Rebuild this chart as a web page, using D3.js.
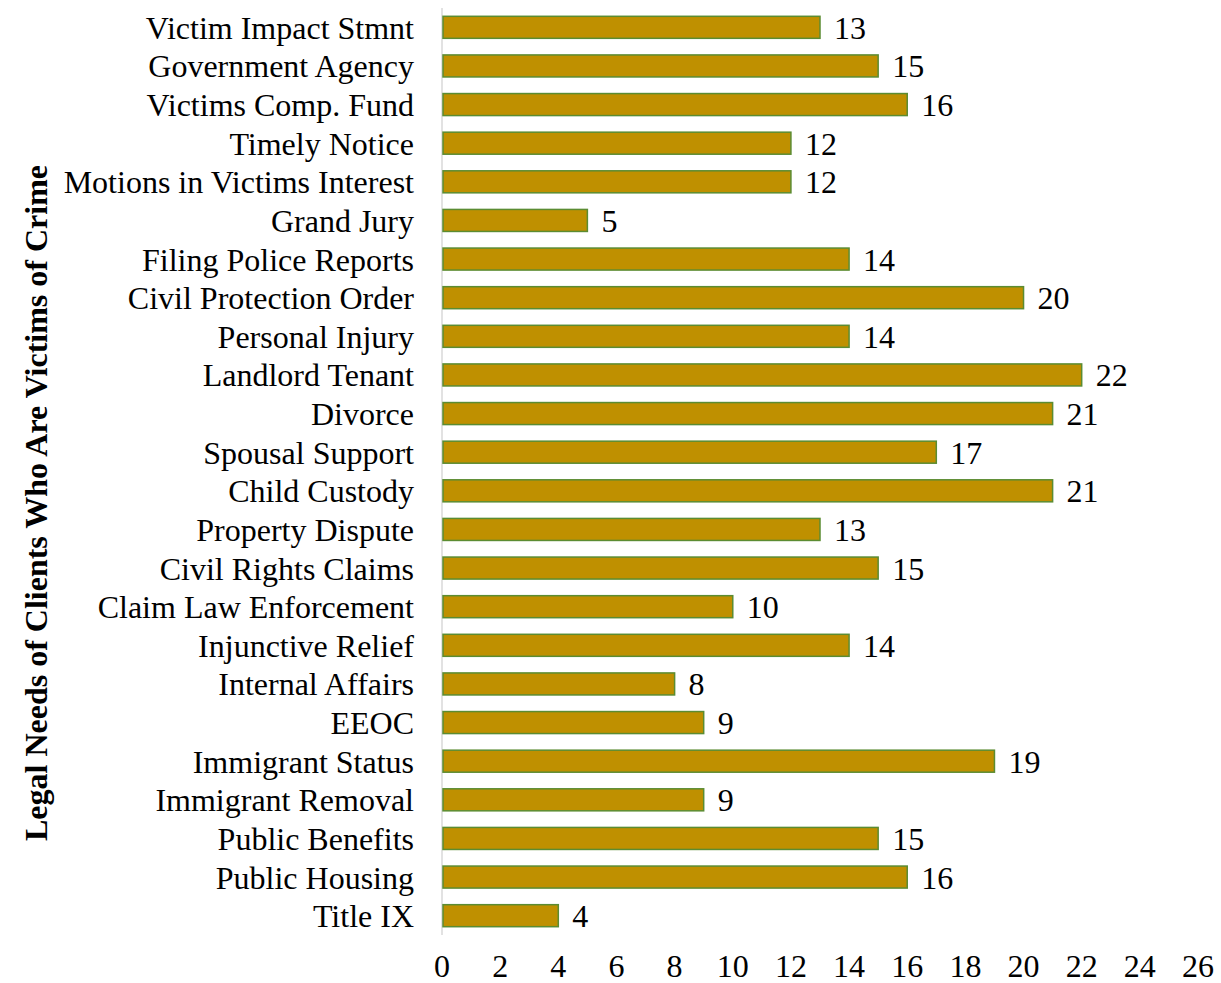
<!DOCTYPE html>
<html>
<head>
<meta charset="utf-8">
<script src="https://cdn.jsdelivr.net/npm/d3@7"></script>
<style>
  body { margin: 0; background: #fff; }
  text { font-family: "Liberation Serif", "Times New Roman", serif; fill: #000; }
</style>
</head>
<body>
<div id="chart"></div>
<script>
const categories = ['Victim Impact Stmnt', 'Government Agency', 'Victims Comp. Fund', 'Timely Notice',
  'Motions in Victims Interest', 'Grand Jury', 'Filing Police Reports', 'Civil Protection Order',
  'Personal Injury', 'Landlord Tenant', 'Divorce', 'Spousal Support', 'Child Custody',
  'Property Dispute', 'Civil Rights Claims', 'Claim Law Enforcement', 'Injunctive Relief',
  'Internal Affairs', 'EEOC', 'Immigrant Status', 'Immigrant Removal', 'Public Benefits',
  'Public Housing', 'Title IX'];
const values = [13, 15, 16, 12, 12, 5, 14, 20, 14, 22, 21, 17, 21, 13, 15, 10, 14, 8, 9, 19, 9, 15, 16, 4];
const xTicks = [0, 2, 4, 6, 8, 10, 12, 14, 16, 18, 20, 22, 24, 26];
const yTitle = 'Legal Needs of Clients Who Are Victims of Crime';

const W = 1221, H = 983;
const x0 = 442, x1 = 1198;
const fs = 32;

const svg = d3.select('#chart').append('svg')
    .attr('width', W)
    .attr('height', H);

const xScale = d3.scaleLinear().domain([0, 26]).range([x0, x1]);
const yScale = d3.scaleBand().domain(categories).range([8, 935]).paddingInner(0.43).paddingOuter(0.215);

// axis line
svg.append('line')
    .attr('x1', x0).attr('x2', x0)
    .attr('y1', 8).attr('y2', 935)
    .attr('stroke', '#d9d9d9')
    .attr('stroke-width', 1.5);

// bars
svg.selectAll('.bar')
    .data(categories)
    .enter()
    .append('rect')
    .attr('class', 'bar')
    .attr('x', xScale(0) + 1)
    .attr('y', d => yScale(d))
    .attr('width', (d, i) => xScale(values[i]) - xScale(0) - 1)
    .attr('height', yScale.bandwidth())
    .attr('fill', '#bf9000')
    .attr('stroke', '#5b8c32')
    .attr('stroke-width', 1.5);

// value labels
svg.selectAll('.val')
    .data(categories)
    .enter()
    .append('text')
    .attr('class', 'val')
    .attr('x', (d, i) => xScale(values[i]) + 14)
    .attr('y', d => yScale(d) + yScale.bandwidth() / 2)
    .attr('dy', '0.36em')
    .style('font-size', fs + 'px')
    .text((d, i) => values[i]);

// category labels
svg.selectAll('.cat')
    .data(categories)
    .enter()
    .append('text')
    .attr('class', 'cat')
    .attr('x', 414)
    .attr('y', d => yScale(d) + yScale.bandwidth() / 2)
    .attr('dy', '0.36em')
    .attr('text-anchor', 'end')
    .style('font-size', fs + 'px')
    .text(d => d);

// x tick labels
svg.selectAll('.xt')
    .data(xTicks)
    .enter()
    .append('text')
    .attr('class', 'xt')
    .attr('x', d => xScale(d))
    .attr('y', 977)
    .attr('text-anchor', 'middle')
    .style('font-size', fs + 'px')
    .text(d => d);

// y title
svg.append('text')
    .attr('transform', 'translate(35,503) rotate(-90)')
    .attr('text-anchor', 'middle')
    .attr('dy', '0.36em')
    .style('font-size', fs + 'px')
    .style('font-weight', 'bold')
    .text(yTitle);
</script>
</body>
</html>
